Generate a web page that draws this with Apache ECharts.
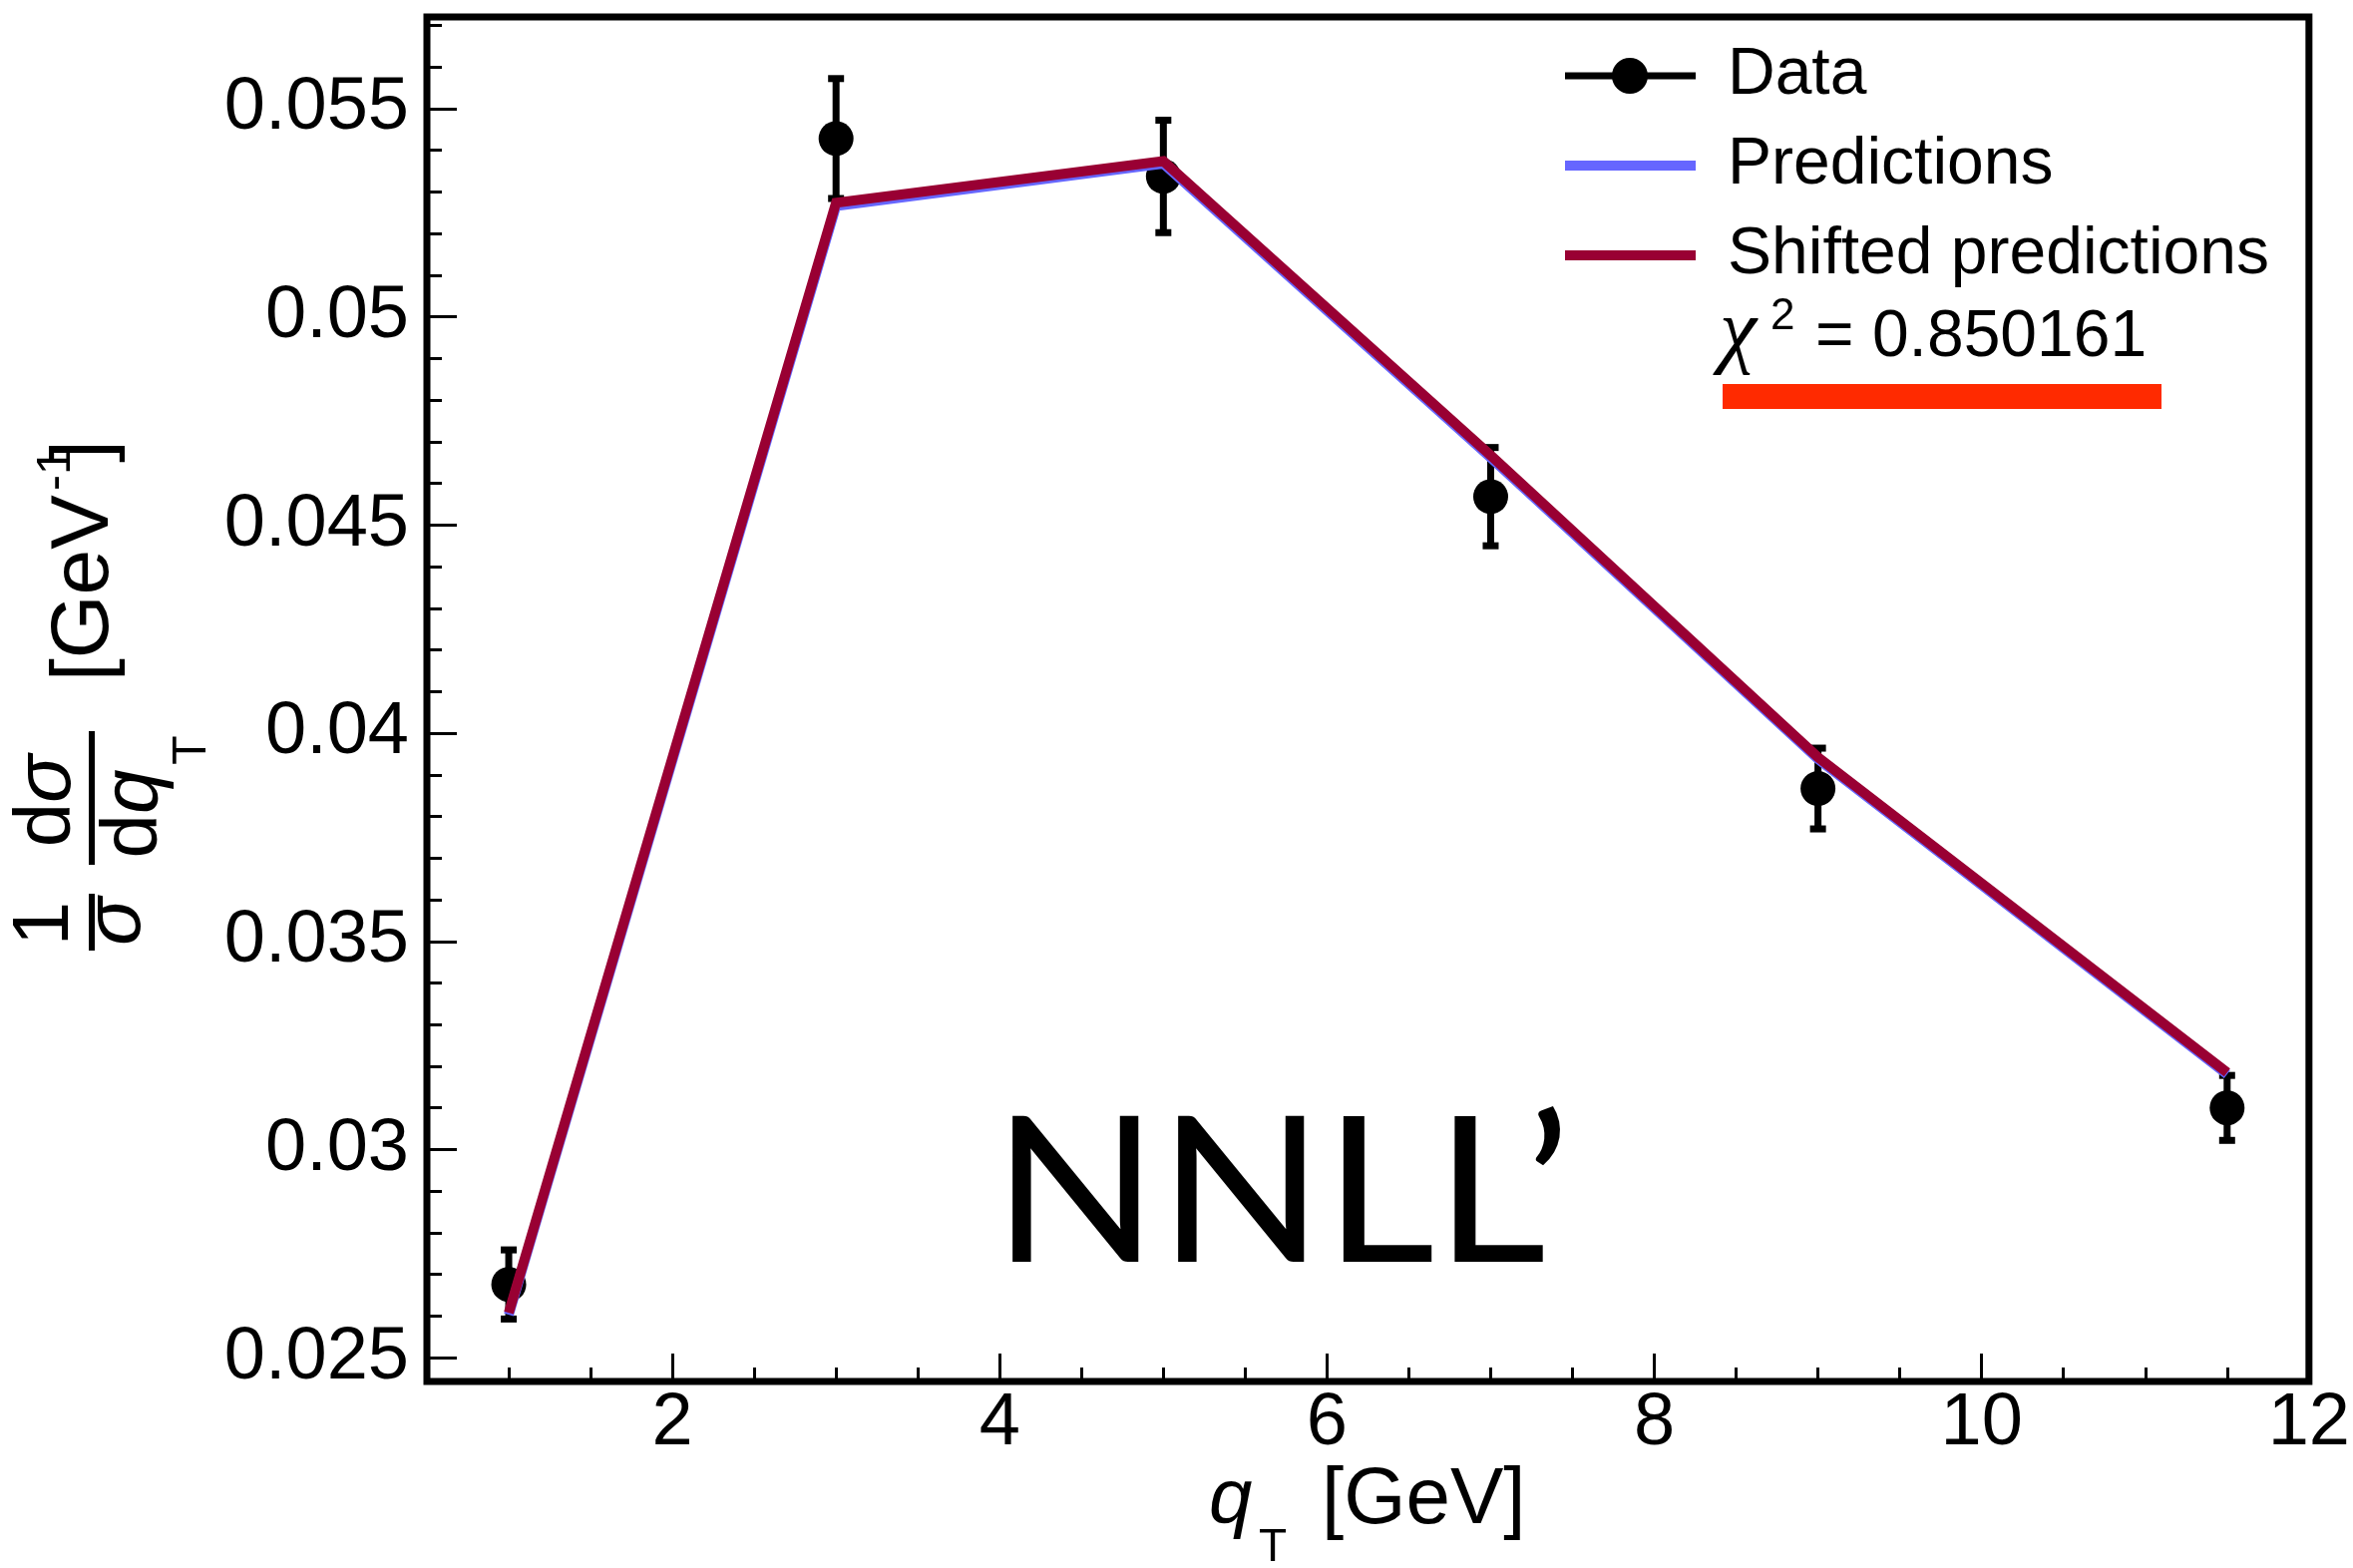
<!DOCTYPE html>
<html>
<head>
<meta charset="utf-8">
<script src="https://cdn.jsdelivr.net/npm/echarts@6/dist/echarts.min.js"></script>
<style>
  html, body { margin: 0; padding: 0; background: #fff; }
  #chart { width: 2359px; height: 1572px; }
</style>
</head>
<body>
<div id="chart"></div>
<script>
  // q_T bins (GeV)
  var qT = [1, 3, 5, 7, 9, 11.5]
  // measured cross section and its uncertainty
  var dataVal = [0.02676, 0.05428, 0.05337, 0.04568, 0.03867, 0.0310]
  var dataErr = [0.00083, 0.00144, 0.00135, 0.00118, 0.00097, 0.00078]
  // theory curves
  var predVal = [0.02603, 0.05266, 0.05368, 0.04662, 0.03938, 0.03181]
  var shiftedVal = [0.02608, 0.05274, 0.05374, 0.04667, 0.03942, 0.03185]

  // axes
  var xMin = 0.5, xMax = 12
  var yMin = 0.02443, yMax = 0.0572
  var xTickValues = [2, 4, 6, 8, 10, 12]
  var xTickLabels = ['2', '4', '6', '8', '10', '12']
  var yTickValues = [0.025, 0.03, 0.035, 0.04, 0.045, 0.05, 0.055]
  var yTickLabels = ['0.025', '0.03', '0.035', '0.04', '0.045', '0.05', '0.055']

  var chi2Text = '= 0.850161'
  var labelText = 'NNLL\u2019'

  var FONT = 'Liberation Sans'

  // minor ticks: every 0.5 on x, every 0.001 on y
  var xMinor = []
  for (var i = 2; i <= 23; i++) { if (i % 4 !== 0) xMinor.push(i / 2) }
  var yMinor = []
  for (var k = 25; k <= 57; k++) { if (k % 5 !== 0) yMinor.push(k / 1000) }

  var pts = qT.map(function (x, i) { return [x, dataVal[i]] })
  var errs = qT.map(function (x, i) { return [x, dataVal[i] - dataErr[i], dataVal[i] + dataErr[i]] })
  var pred = qT.map(function (x, i) { return [x, predVal[i]] })
  var shifted = qT.map(function (x, i) { return [x, shiftedVal[i]] })

  function lbl(values, labels) {
    return function (v) {
      for (var i = 0; i < values.length; i++) {
        if (Math.abs(values[i] - v) < 1e-9) return labels[i]
      }
      return ''
    }
  }

  var chart = echarts.init(document.getElementById('chart'))

  var hidden = { show: false }
  var sans = function (size, italic) { return (italic ? 'italic ' : '') + size + 'px "Liberation Sans"' }

  chart.setOption({
    animation: false,
    backgroundColor: '#fff',
    grid: {
      left: 428, right: 42, top: 17, bottom: 187,
      show: true, borderColor: '#000', borderWidth: 7, backgroundColor: 'transparent'
    },
    legend: {
      orient: 'vertical',
      left: 1569, top: 43,
      padding: 0,
      itemWidth: 158, itemHeight: 36, itemGap: 24,
      selectedMode: false,
      itemStyle: { borderWidth: 0 },
      textStyle: { fontFamily: FONT, fontSize: 66, color: '#000' },
      data: [
        { name: 'Data', icon: 'path://M0,0 M158,36 M0,14.5 L131,14.5 L131,21.5 L0,21.5 Z M47,18 A18,18 0 1 1 83,18 A18,18 0 1 1 47,18 Z' },
        { name: 'Predictions', icon: 'path://M0,0 M158,36 M0,13 L131,13 L131,23 L0,23 Z' },
        { name: 'Shifted predictions', icon: 'path://M0,0 M158,36 M0,13 L131,13 L131,23 L0,23 Z' }
      ]
    },
    xAxis: [
      {
        type: 'value', min: xMin, max: xMax, position: 'bottom',
        axisLine: hidden, splitLine: hidden,
        axisTick: { show: true, inside: true, length: 28, customValues: xTickValues, lineStyle: { color: '#000', width: 3 } },
        axisLabel: {
          show: true, customValues: xTickValues, formatter: lbl(xTickValues, xTickLabels),
          fontFamily: FONT, fontSize: 74, color: '#000', margin: 6
        }
      },
      {
        type: 'value', min: xMin, max: xMax, position: 'bottom',
        axisLine: hidden, splitLine: hidden, axisLabel: hidden,
        axisTick: { show: true, inside: true, length: 14, customValues: xMinor, lineStyle: { color: '#000', width: 3 } }
      }
    ],
    yAxis: [
      {
        type: 'value', min: yMin, max: yMax, position: 'left',
        axisLine: hidden, splitLine: hidden,
        axisTick: { show: true, inside: true, length: 30, customValues: yTickValues, lineStyle: { color: '#000', width: 3 } },
        axisLabel: {
          show: true, customValues: yTickValues, formatter: lbl(yTickValues, yTickLabels),
          fontFamily: FONT, fontSize: 74, color: '#000', margin: 18
        }
      },
      {
        type: 'value', min: yMin, max: yMax, position: 'left',
        axisLine: hidden, splitLine: hidden, axisLabel: hidden,
        axisTick: { show: true, inside: true, length: 15, customValues: yMinor, lineStyle: { color: '#000', width: 3 } }
      }
    ],
    series: [
      {
        name: 'errors',
        type: 'custom',
        data: errs,
        renderItem: function (params, api) {
          var x = api.value(0)
          var lo = api.coord([x, api.value(1)])
          var hi = api.coord([x, api.value(2)])
          var st = { stroke: '#000', lineWidth: 7 }
          return {
            type: 'group',
            children: [
              { type: 'line', shape: { x1: hi[0], y1: hi[1], x2: lo[0], y2: lo[1] }, style: st },
              { type: 'line', shape: { x1: hi[0] - 8, y1: hi[1], x2: hi[0] + 8, y2: hi[1] }, style: st },
              { type: 'line', shape: { x1: lo[0] - 8, y1: lo[1], x2: lo[0] + 8, y2: lo[1] }, style: st }
            ]
          }
        }
      },
      {
        name: 'Data',
        type: 'scatter',
        data: pts,
        symbol: 'circle',
        symbolSize: 35,
        itemStyle: { color: '#000', opacity: 1 }
      },
      {
        name: 'Predictions',
        type: 'line',
        data: pred,
        symbol: 'none',
        color: '#6666ff',
        lineStyle: { color: '#6666ff', width: 10, join: 'miter' }
      },
      {
        name: 'Shifted predictions',
        type: 'line',
        data: shifted,
        symbol: 'none',
        color: '#990033',
        lineStyle: { color: '#990033', width: 10, join: 'miter' }
      }
    ],
    graphic: [
      // chi2 annotation
      { type: 'text', x: 1724, y: 336, style: { text: '\u03C7', font: 'italic 84px "Liberation Serif"', fill: '#000', align: 'left', verticalAlign: 'middle' } },
      { type: 'text', x: 1775, y: 318, style: { text: '2', font: sans(44), fill: '#000', align: 'left', verticalAlign: 'middle' } },
      { type: 'text', x: 1820, y: 339, style: { text: chi2Text, font: sans(66), fill: '#000', align: 'left', verticalAlign: 'middle' } },
      { type: 'rect', shape: { x: 1727, y: 385, width: 440, height: 25 }, style: { fill: '#ff2a00' } },
      // big label
      { type: 'text', x: 1285, y: 1200, scaleX: 1.07, style: { text: labelText, font: '203px "Lato"', fill: '#000', align: 'center', verticalAlign: 'middle' } },
      // x axis title
      { type: 'text', x: 1212, y: 1505, style: { text: 'q', font: sans(78, true), fill: '#000', align: 'left', verticalAlign: 'middle' } },
      { type: 'text', x: 1262, y: 1552, style: { text: 'T', font: sans(46), fill: '#000', align: 'left', verticalAlign: 'middle' } },
      { type: 'text', x: 1325, y: 1505, style: { text: '[GeV]', font: sans(80), fill: '#000', align: 'left', verticalAlign: 'middle' } },
      // y axis title, rotated (reads bottom to top)
      {
        type: 'group', x: 92, y: 700, rotation: Math.PI / 2,
        children: [
          { type: 'text', x: -226, y: -46, style: { text: '1', font: sans(80), fill: '#000', align: 'center', verticalAlign: 'middle' } },
          { type: 'rect', shape: { x: -253, y: -3, width: 57, height: 6 }, style: { fill: '#000' } },
          { type: 'text', x: -224, y: 26, style: { text: '\u03C3', font: sans(80, true), fill: '#000', align: 'center', verticalAlign: 'middle' } },
          {
            type: 'text', x: -103, y: -44,
            style: {
              text: '{n|d}{i|\u03C3}', align: 'center', verticalAlign: 'middle', fill: '#000',
              rich: { n: { font: sans(80), fill: '#000' }, i: { font: sans(80, true), fill: '#000' } }
            }
          },
          { type: 'rect', shape: { x: -167, y: -3, width: 134, height: 6 }, style: { fill: '#000' } },
          {
            type: 'text', x: -116, y: 43,
            style: {
              text: '{n|d}{i|q}', align: 'center', verticalAlign: 'middle', fill: '#000',
              rich: { n: { font: sans(80), fill: '#000' }, i: { font: sans(80, true), fill: '#000' } }
            }
          },
          { type: 'text', x: -52, y: 101, style: { text: 'T', font: sans(48), fill: '#000', align: 'center', verticalAlign: 'middle' } },
          { type: 'text', x: 17, y: -7, style: { text: '[GeV', font: sans(82), fill: '#000', align: 'left', verticalAlign: 'middle' } },
          { type: 'text', x: 208, y: -35, style: { text: '-1', font: sans(48), fill: '#000', align: 'left', verticalAlign: 'middle' } },
          { type: 'text', x: 236, y: -7, style: { text: ']', font: sans(82), fill: '#000', align: 'left', verticalAlign: 'middle' } }
        ]
      }
    ]
  })

  window.addEventListener('resize', chart.resize)
</script>
</body>
</html>
